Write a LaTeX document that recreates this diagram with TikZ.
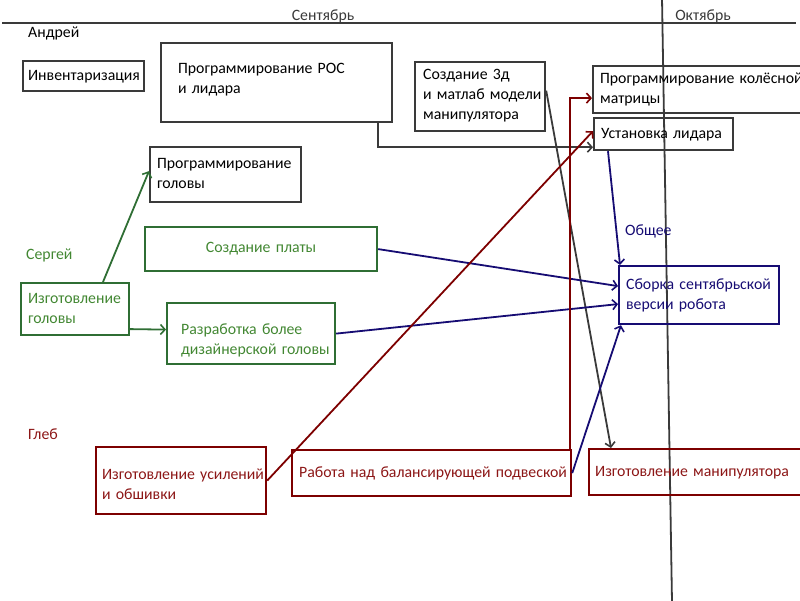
\documentclass[tikz,border=0pt]{standalone}
\usepackage{fontspec}
\setmainfont{Carlito}
\usetikzlibrary{arrows.meta,calc}
\definecolor{ink}{RGB}{58,58,58}
\definecolor{grn}{RGB}{47,110,52}
\definecolor{grntxt}{RGB}{66,135,50}
\definecolor{nav}{RGB}{22,12,115}
\definecolor{drd}{RGB}{125,0,0}
\definecolor{drdtxt}{RGB}{140,22,22}
% left-aligned lines that never wrap inside a fixed-width box,
% optionally nudged up or down without changing the box size
\newcommand\boxlines[2][0pt]{\raisebox{#1}[\height][\depth]{\begin{tabular}{@{}l@{}}#2\end{tabular}}}
\hfuzz=200pt
\begin{document}
\begin{tikzpicture}[x=1pt,y=-1pt,
  font=\fontsize{15.8}{20}\selectfont,
  box/.style={draw, line width=2.2pt, anchor=north west, align=left,
    inner ysep=0pt, inner xsep=7pt},
  gbox/.style={box, draw=grn, text=grntxt},
  rbox/.style={box, draw=drd, text=drdtxt},
  nbox/.style={box, draw=nav, text=nav},
  lbl/.style={inner sep=0pt},
  link/.style={line width=1.8pt, -{Straight Barb[length=4.5pt,width=10pt,line width=1.6pt]}},
  guide/.style={line width=1.8pt, draw=ink}]
\useasboundingbox (0,0) rectangle (800,600);
\clip (0,0) rectangle (800,600);

% timeline
\coordinate (tl) at (2,23);
\coordinate (tr) at (796,23);
\coordinate (vt) at (662,-2);
\coordinate (vb) at (672,602);
\draw[guide] (tl) -- (tr);
\draw[guide] (vt) -- (vb);
\node[lbl, text=ink] (sep) at (323,16) {Сентябрь};
\node[lbl, text=ink] (oct) at (703,16) {Октябрь};

% Андрей
\node[lbl, anchor=west] (andrey) at (28,33) {Андрей};
\node[box, draw=ink, minimum height=30pt, text width=111pt, inner xsep=5pt] (inv) at (22,60) {\boxlines{Инвентаризация}};
\node[box, draw=ink, minimum height=79pt, text width=197pt, inner xsep=17pt] (ros) at (160,42) {\boxlines[3pt]{Программирование РОС\\и лидара}};
\node[box, draw=ink, minimum height=55pt, text width=137pt, inner xsep=7pt] (progh) at (149,146) {\boxlines{Программирование\\головы}};
\node[box, draw=ink, minimum height=69pt, text width=114pt, inner xsep=8pt] (model) at (414,61) {\boxlines[1pt]{Создание 3д\\и матлаб модели\\манипулятора}};
\node[box, draw=ink, minimum height=47pt, text width=240pt, inner xsep=7pt] (koles) at (592,65) {\boxlines{Программирование колёсной\\матрицы}};
\node[box, draw=ink, minimum height=32pt, text width=125pt, inner xsep=7pt] (lidar) at (593,117) {\boxlines{Установка лидара}};

% Сергей
\node[lbl, anchor=west, text=grntxt] (sergey) at (26,255) {Сергей};
\node[gbox, minimum height=52pt, text width=94pt, inner xsep=7pt] (head) at (20,282) {\boxlines{Изготовление\\головы}};
\node[gbox, minimum height=44pt, text width=218pt, inner xsep=7pt, align=center] (plata) at (144,226) {Создание платы};
\node[gbox, minimum height=61pt, text width=140pt, inner xsep=14pt] (razr) at (166,302) {\boxlines[-7pt]{Разработка более\\дизайнерской головы}};

% Общее
\node[lbl, anchor=west, text=nav] (common) at (625,231) {Общее};
\node[nbox, minimum height=58pt, text width=146pt, inner xsep=7pt] (sborka) at (618,265) {\boxlines{Сборка сентябрьской\\версии робота}};

% Глеб
\node[lbl, anchor=west, text=drdtxt] (gleb) at (28,434) {Глеб};
\node[rbox, minimum height=67pt, text width=158pt, inner xsep=6pt] (usil) at (95,446) {\boxlines[-5pt]{Изготовление усилений\\и обшивки}};
\node[rbox, minimum height=46pt, text width=265pt, inner xsep=7pt] (bal) at (291,449) {\boxlines{Работа над балансирующей подвеской}};
\node[rbox, minimum height=46pt, text width=240pt, inner xsep=6pt] (manip) at (588,448) {\boxlines{Изготовление манипулятора}};

% dependencies
\draw[link, ink] ([xshift=218pt]ros.south west) |- ([yshift=4pt]lidar.south west);
\draw[link, ink] ([yshift=6pt]model.east) -- ([xshift=23pt]manip.north west);

\draw[link, grn] ([xshift=83pt]head.north west) -- ([yshift=3.5pt]progh.west);
\draw[link, grn] ([yshift=-20pt]head.east) -- ([yshift=4pt]razr.west);

\draw[link, nav] ([xshift=15pt]lidar.south west) -- ([xshift=2pt]sborka.north west);
\draw[link, nav] (plata.east) -- ([yshift=9pt]sborka.west);
\draw[link, nav] (razr.east) -- ([yshift=-9pt]sborka.west);
\draw[link, nav] (bal.east) -- ([xshift=3pt]sborka.south west);

\draw[link, drd] (usil.east) -- ([yshift=3pt]lidar.west);
\draw[link, drd] ([xshift=-2pt]bal.north east) |- ([yshift=-8.5pt]koles.west);
\end{tikzpicture}
\end{document}
